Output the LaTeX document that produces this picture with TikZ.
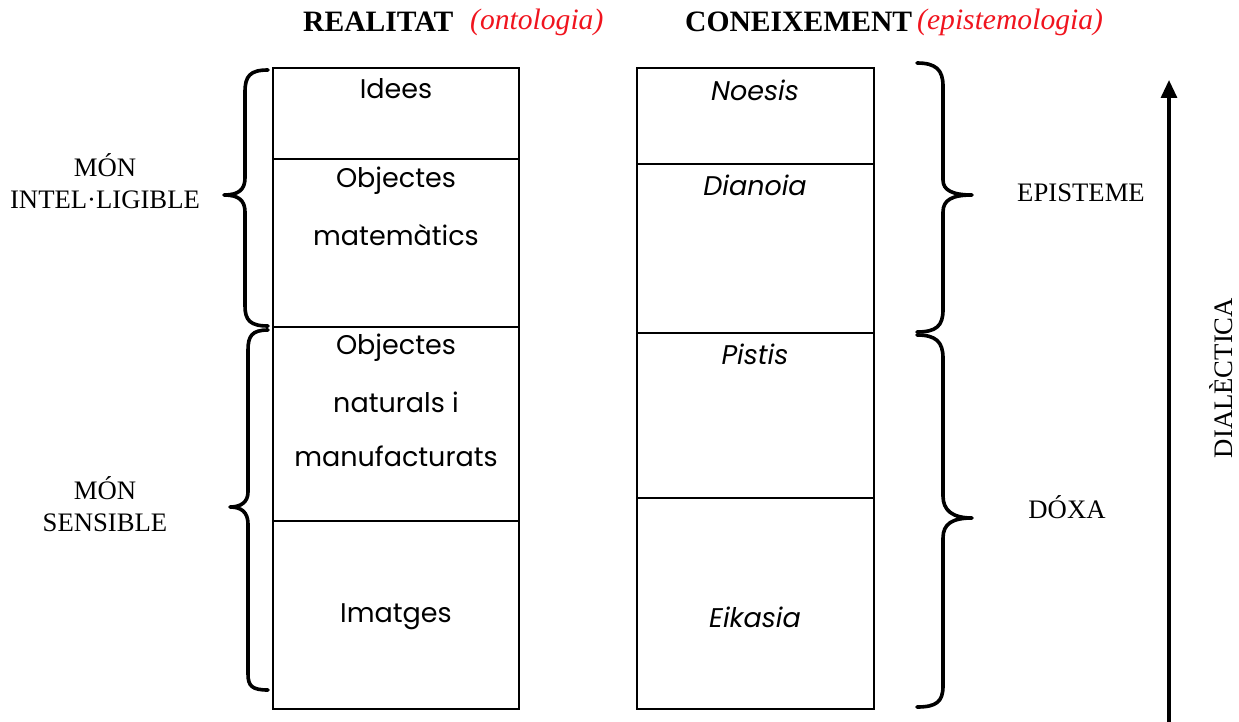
\documentclass[tikz,border=0pt]{standalone}
\usepackage{fontspec}
\setmainfont{Liberation Serif}
\newfontfamily\gothic{Poppins}
\usetikzlibrary{arrows.meta}
\definecolor{titlered}{RGB}{240,20,30}
\tikzset{
  celltxt/.style={font=\gothic\fontsize{27}{32}\selectfont, align=center, inner sep=0pt},
  celltxtit/.style={font=\gothic\itshape\fontsize{27}{32}\selectfont, align=center, inner sep=0pt},
  lbl/.style={font=\fontsize{26.7}{32}\selectfont, align=center, inner sep=0pt},
  ttl/.style={font=\bfseries\fontsize{29.6}{32}\selectfont, inner sep=0pt},
  ttlit/.style={font=\itshape\fontsize{29.6}{32}\selectfont, text=titlered, inner sep=0pt},
  boxline/.style={line width=2.3pt},
  bracestyle/.style={line width=3.6pt, line cap=round, line join=round},
}
\begin{document}
\begin{tikzpicture}[x=1pt,y=-1pt]
\useasboundingbox (0,0) rectangle (1239,722);
% titles
\node[ttl, anchor=west] (tr) at (303,22) {REALITAT};
\node[ttlit, anchor=west] (to) at (470,22) {(ontologia)};
\node[ttl, anchor=west] (tc) at (685,22) {CONEIXEMENT};
\node[ttlit, anchor=west] (te) at (917,22) {(epistemologia)};
% left column cells
\draw[boxline] (273,68) rectangle (519,709);
\draw[boxline] (273,159) -- (519,159);
\draw[boxline] (273,327) -- (519,327);
\draw[boxline] (273,521) -- (519,521);
% right column cells
\draw[boxline] (637,68) rectangle (874,709);
\draw[boxline] (637,164) -- (874,164);
\draw[boxline] (637,333) -- (874,333);
\draw[boxline] (637,498) -- (874,498);
% left texts
\node[celltxt] (idees) at (396,89) {Idees};
\node[celltxt] (om1) at (396,181) {Objectes};
\node[celltxt] (om2) at (396,235) {matemàtics};
\node[celltxt] (on1) at (396,348) {Objectes};
\node[celltxt] (on2) at (396,402) {naturals i};
\node[celltxt] (on3) at (396,456) {manufacturats};
\node[celltxt] (imat) at (396,617) {Imatges};
% right texts
\node[celltxtit] (noe) at (755,90) {Noesis};
\node[celltxtit] (dia) at (755,185) {Dianoia};
\node[celltxtit] (pis) at (755,354) {Pistis};
\node[celltxtit] (eik) at (755,617) {Eikasia};
% left labels
\node[lbl] (mi) at (105,181) {MÓN\\INTEL·LIGIBLE};
\node[lbl] (ms) at (105,504) {MÓN\\SENSIBLE};
% right labels
\node[lbl] (epi) at (1081,193) {EPISTEME};
\node[lbl] (dox) at (1067,507) {DÓXA};
% left braces
\draw[bracestyle] (268,70) .. controls (250,70) and (245,76) .. (245,92) -- (245,178)
  .. controls (245,190) and (238,195) .. (224,195)
  .. controls (238,195) and (245,200) .. (245,212) -- (245,306)
  .. controls (245,320) and (250,326) .. (268,326);
\draw[bracestyle] (268,330) .. controls (252,330) and (248,336) .. (248,350) -- (248,492)
  .. controls (248,502) and (241,507) .. (230,507)
  .. controls (241,507) and (248,512) .. (248,524) -- (248,674)
  .. controls (248,686) and (252,690) .. (268,690);
% right braces
\draw[bracestyle] (917,63) .. controls (936,63) and (943,70) .. (943,86) -- (943,180)
  .. controls (943,190) and (952,195) .. (972,195)
  .. controls (952,195) and (943,200) .. (943,212) -- (943,310)
  .. controls (943,326) and (936,332) .. (917,332);
\draw[bracestyle] (917,335) .. controls (936,335) and (943,342) .. (943,358) -- (943,496)
  .. controls (943,510) and (952,518) .. (972,518)
  .. controls (952,518) and (943,524) .. (943,538) -- (943,686)
  .. controls (943,702) and (936,707) .. (917,707);
% dialectica arrow
\coordinate (ab) at (1169,722);
\coordinate (at) at (1169,80);
\draw[line width=3.2pt, -{Triangle[width=16pt,length=18pt]}] (ab) -- (at);
\node[lbl, rotate=90] (dial) at (1221,378) {DIALÈCTICA};
\end{tikzpicture}
\end{document}
